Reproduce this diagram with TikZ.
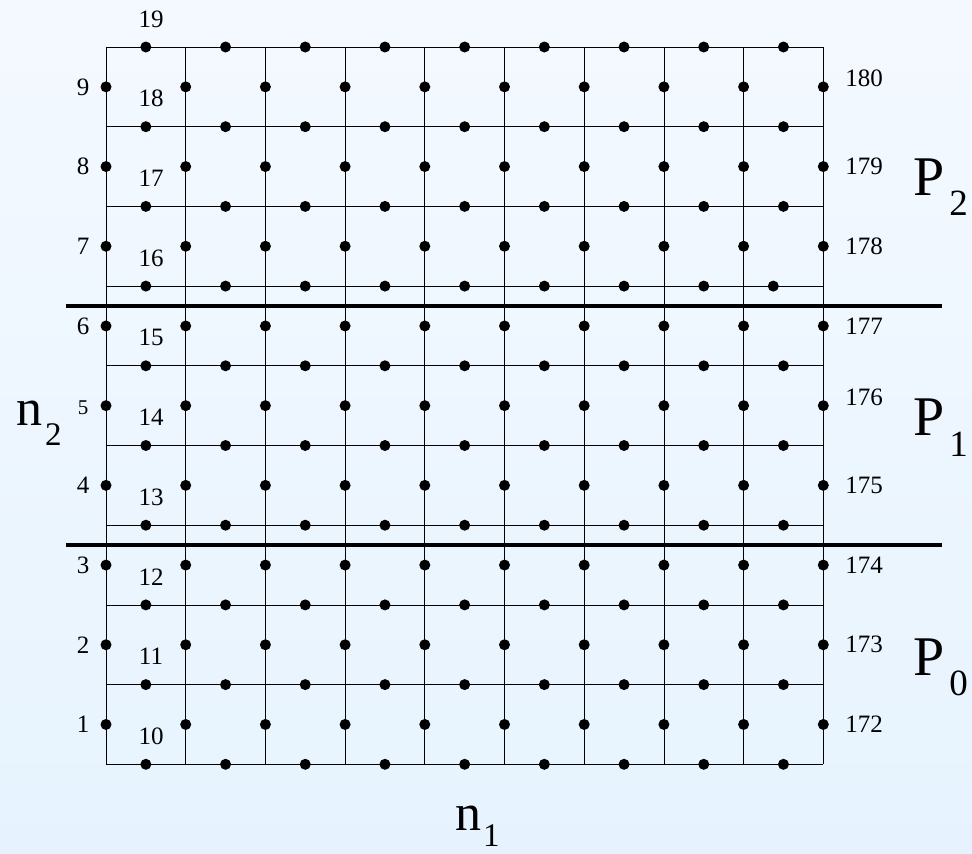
\documentclass[tikz,border=0pt]{standalone}
\usepackage{fontspec}
\setmainfont{Liberation Serif}
\definecolor{bgtop}{RGB}{244,249,255}
\definecolor{bgbot}{RGB}{230,243,254}
\begin{document}
\begin{tikzpicture}[x=1pt,y=-1pt,
  gridline/.style={line width=0.8pt,black},
  sepline/.style={line width=3.6pt,black},
  dot/.style={circle,fill=black,inner sep=0pt,minimum size=11pt},
  lbl/.style={inner sep=0pt,font=\fontsize{25}{25}\selectfont},
  biglbl/.style={inner sep=0pt,anchor=base west,font=\fontsize{56}{56}\selectfont}]
\useasboundingbox (0,0) rectangle (972,854);
\shade[top color=bgtop,bottom color=bgbot] (0,0) rectangle (972,854);
% grid
\foreach \i in {0,...,9}{
  \pgfmathsetmacro{\xx}{106+\i*79.7}
  \draw[gridline] (\xx,47) -- (\xx,764.3);
  \pgfmathsetmacro{\yy}{47+\i*79.7}
  \draw[gridline] (106,\yy) -- (823.3,\yy);
}
% separator lines
\coordinate (s1a) at (66,306); \coordinate (s1b) at (942,306);
\coordinate (s2a) at (66,545); \coordinate (s2b) at (942,545);
\draw[sepline] (s1a) -- (s1b);
\draw[sepline] (s2a) -- (s2b);
% dots on vertical lines
\foreach \i in {0,...,9}{
  \foreach \k in {0,...,8}{
    \pgfmathsetmacro{\xx}{106+\i*79.7}
    \pgfmathsetmacro{\yy}{86.85+\k*79.7}
    \node[dot] (v-\i-\k) at (\xx,\yy) {};
  }
}
% dots on horizontal lines
\foreach \j in {0,...,9}{
  \foreach \i in {0,...,8}{
    \pgfmathsetmacro{\xx}{(\j==3 && \i==8) ? 773.3 : 145.85+\i*79.7}
    \pgfmathsetmacro{\yy}{47+\j*79.7}
    \node[dot] (h-\i-\j) at (\xx,\yy) {};
  }
}
% left labels 1..9 (except 5)
\foreach \k in {1,2,3,4,6,7,8,9}{
  \pgfmathsetmacro{\yy}{764.3-(\k-0.5)*79.7}
  \node[lbl] (L\k) at (83,\yy) {\k};
}
\node[inner sep=0pt,font=\fontsize{21}{21}\selectfont] (L5) at (83,408) {5};
% right labels 172..180
\foreach \k in {1,2,3,4,6,7,8}{
  \pgfmathsetmacro{\yy}{764.3-(\k-0.5)*79.7}
  \pgfmathtruncatemacro{\nn}{171+\k}
  \node[lbl] (R\nn) at (864,\yy) {\nn};
}
\node[lbl] (R176) at (864,397.5) {176};
\node[lbl] (R180) at (864,78) {180};
% labels 10..19
\foreach \j in {0,...,9}{
  \pgfmathsetmacro{\yy}{764.3-\j*79.7-28}
  \pgfmathtruncatemacro{\nn}{10+\j}
  \node[lbl] (B\nn) at (151,\yy) {\nn};
}
% big labels
\node[biglbl] (P2) at (913,195) {P\hspace{5pt}\raisebox{-20pt}{\fontsize{37}{37}\selectfont 2}};
\node[biglbl] (P1) at (913,435) {P\hspace{5pt}\raisebox{-21pt}{\fontsize{37}{37}\selectfont 1}};
\node[biglbl] (P0) at (913,675) {P\hspace{5pt}\raisebox{-20pt}{\fontsize{37}{37}\selectfont 0}};
\node[biglbl,font=\fontsize{52}{52}\selectfont] (n2) at (16,425) {n\hspace{3pt}\raisebox{-20pt}{\fontsize{33}{33}\selectfont 2}};
\node[biglbl,font=\fontsize{52}{52}\selectfont] (n1) at (455,830) {n\hspace{2pt}\raisebox{-16pt}{\fontsize{33}{33}\selectfont 1}};
\end{tikzpicture}
\end{document}
